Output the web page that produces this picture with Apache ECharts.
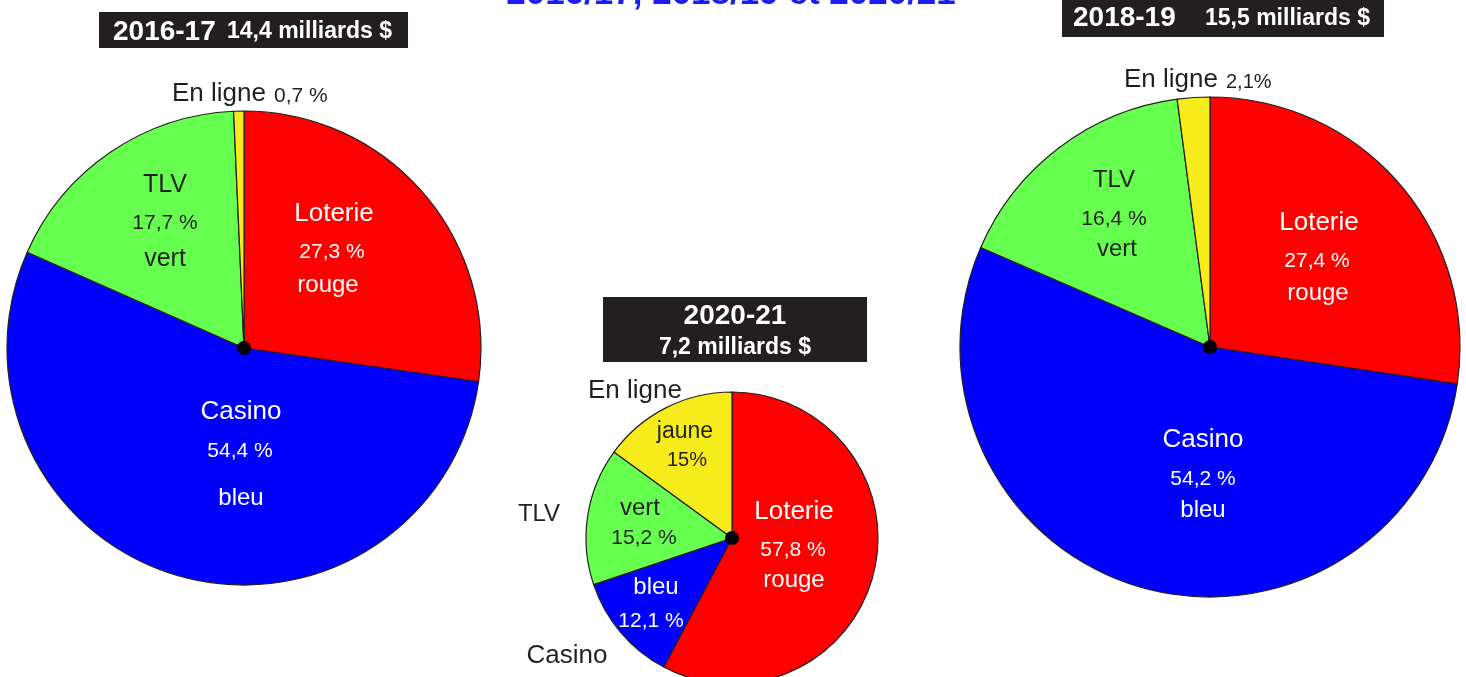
<!DOCTYPE html>
<html>
<head>
<meta charset="utf-8">
<title>Parts des revenus du jeu</title>
<script src="https://cdn.jsdelivr.net/npm/echarts@6/dist/echarts.min.js"></script>
<style>
  html, body { margin: 0; padding: 0; background: #fff; }
  #chart { width: 1466px; height: 677px; }
</style>
</head>
<body>
<div id="chart"></div>
<script>
// données
const categories = ['Loterie', 'Casino', 'TLV', 'En ligne'];
const colorWords = ['rouge', 'bleu', 'vert', 'jaune'];
const years = ['2016-17', '2018-19', '2020-21'];
const totals = ['14,4', '15,5', '7,2'];
const share2016 = [27.3, 54.4, 17.7, 0.7];
const share2018 = [27.4, 54.2, 16.4, 2.1];
const share2020 = [57.8, 12.1, 15.2, 15];
const titleText = '2016/17, 2018/19 et 2020/21';

const sliceColors = ['#ff0000', '#0000ff', '#66ff4f', '#f6ec1c'];
const ink = '#231f20';
const font = '"Liberation Sans", Arial, Helvetica, sans-serif';

const pct = (v, sep) => String(v).replace('.', ',') + (sep === undefined ? ' ' : sep) + '%';

// le texte "middle" sort un peu trop haut, on décale de 2px
function txt(x, y, text, size, fill, align, weight) {
  return {
    type: 'text', x: x, y: y + 2, z: 10, silent: true,
    style: {
      text: text, fill: fill || ink, font: (weight || 'normal') + ' ' + size + 'px ' + font,
      textAlign: align || 'center', textVerticalAlign: 'middle'
    }
  };
}

// un camembert par année
const pies = [
  { values: share2016, center: [244, 348], r: 237 },
  { values: share2018, center: [1210, 347], r: 250 },
  { values: share2020, center: [732, 538], r: 146 }
];

const series = pies.map(p => ({
  type: 'pie',
  center: p.center,
  radius: [0, p.r],
  startAngle: 90,
  clockwise: true,
  silent: true,
  animation: false,
  label: { show: false },
  labelLine: { show: false },
  emphasis: { disabled: true },
  itemStyle: { borderColor: ink, borderWidth: 1.2 },
  data: categories.map((c, i) => ({ name: c, value: p.values[i], itemStyle: { color: sliceColors[i] } }))
}));

const W = '#ffffff';
const graphics = [];

// titre (coupé en haut)
graphics.push(txt(731, -8, titleText, 35, '#1c1cf5', 'center', 'bold'));

// encadrés des années
graphics.push({ type: 'rect', z: 5, silent: true, shape: { x: 99, y: 12, width: 309, height: 36 }, style: { fill: ink } });
graphics.push(txt(113, 30, years[0], 28, W, 'left', 'bold'));
graphics.push(txt(227, 30, totals[0] + ' milliards $', 23, W, 'left', 'bold'));

graphics.push({ type: 'rect', z: 5, silent: true, shape: { x: 1062, y: -2, width: 322, height: 39 }, style: { fill: ink } });
graphics.push(txt(1073, 16, years[1], 28, W, 'left', 'bold'));
graphics.push(txt(1205, 17, totals[1] + ' milliards $', 23, W, 'left', 'bold'));

graphics.push({ type: 'rect', z: 5, silent: true, shape: { x: 603, y: 297, width: 264, height: 65 }, style: { fill: ink } });
graphics.push(txt(735, 314, years[2], 28, W, 'center', 'bold'));
graphics.push(txt(735, 346, totals[2] + ' milliards $', 23, W, 'center', 'bold'));

// 2016-17
graphics.push(txt(172, 92, categories[3], 26, ink, 'left'));
graphics.push(txt(274, 94, pct(share2016[3]), 21, ink, 'left'));
graphics.push(txt(165, 183, categories[2], 25, ink));
graphics.push(txt(165, 221, pct(share2016[2]), 21, ink));
graphics.push(txt(165, 257, colorWords[2], 25, ink));
graphics.push(txt(334, 212, categories[0], 26, W));
graphics.push(txt(332, 250, pct(share2016[0]), 21, W));
graphics.push(txt(328, 283, colorWords[0], 24, W));
graphics.push(txt(241, 410, categories[1], 26, W));
graphics.push(txt(240, 449, pct(share2016[1]), 21, W));
graphics.push(txt(241, 496, colorWords[1], 24, W));

// 2018-19
graphics.push(txt(1124, 78, categories[3], 26, ink, 'left'));
graphics.push(txt(1226, 80, pct(share2018[3], ''), 20, ink, 'left'));
graphics.push(txt(1114, 178, categories[2], 24, ink));
graphics.push(txt(1114, 217, pct(share2018[2]), 21, ink));
graphics.push(txt(1117, 247, colorWords[2], 24, ink));
graphics.push(txt(1319, 221, categories[0], 26, W));
graphics.push(txt(1317, 259, pct(share2018[0]), 21, W));
graphics.push(txt(1318, 291, colorWords[0], 24, W));
graphics.push(txt(1203, 438, categories[1], 26, W));
graphics.push(txt(1203, 477, pct(share2018[1]), 21, W));
graphics.push(txt(1203, 508, colorWords[1], 24, W));

// 2020-21
graphics.push(txt(588, 389, categories[3], 26, ink, 'left'));
graphics.push(txt(539, 512, categories[2], 24, ink));
graphics.push(txt(567, 654, categories[1], 26, ink));
graphics.push(txt(685, 430, colorWords[3], 23, ink));
graphics.push(txt(687, 458, pct(share2020[3], ''), 20, ink));
graphics.push(txt(640, 506, colorWords[2], 24, ink));
graphics.push(txt(644, 536, pct(share2020[2]), 21, ink));
graphics.push(txt(656, 585, colorWords[1], 24, W));
graphics.push(txt(651, 619, pct(share2020[1]), 21, W));
graphics.push(txt(794, 510, categories[0], 26, W));
graphics.push(txt(793, 548, pct(share2020[0]), 21, W));
graphics.push(txt(794, 578, colorWords[0], 24, W));

// points au centre
pies.forEach(p => {
  graphics.push({ type: 'circle', z: 20, silent: true, shape: { cx: p.center[0], cy: p.center[1], r: 7 }, style: { fill: '#000' } });
});

const chart = echarts.init(document.getElementById('chart'), null, { renderer: 'canvas' });
chart.setOption({
  backgroundColor: '#ffffff',
  animation: false,
  series: series,
  graphic: graphics
});
</script>
</body>
</html>
